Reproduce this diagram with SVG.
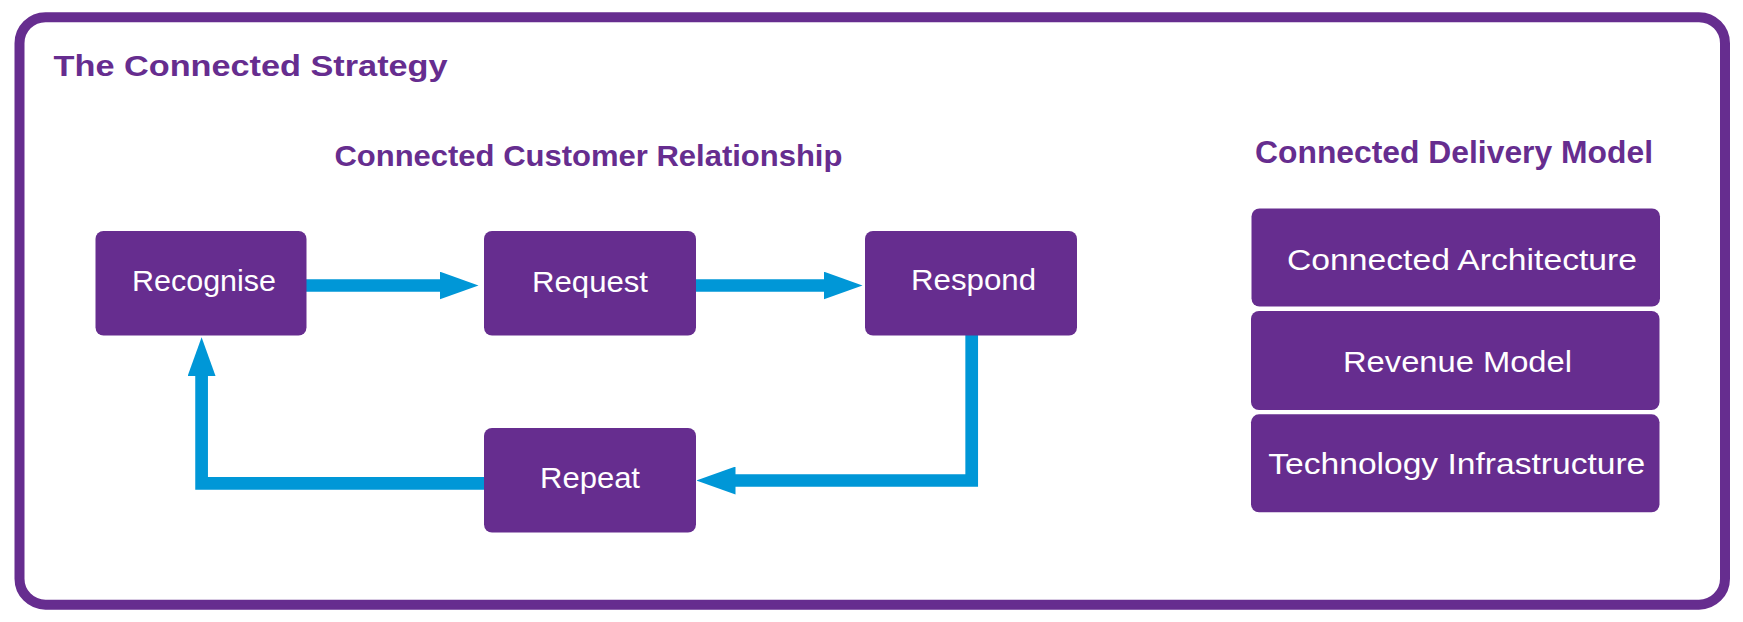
<svg xmlns="http://www.w3.org/2000/svg" width="1743" height="622" viewBox="0 0 1743 622">
  <style>
    .frame { fill: #ffffff; stroke: #662D8F; stroke-width: 10; }
    .heading { font-family: "Liberation Sans", Arial, sans-serif; font-weight: bold; fill: #662D8F; }
    .box { fill: #662D8F; }
    .label { font-family: "Liberation Sans", Arial, sans-serif; font-size: 30px; fill: #ffffff; text-anchor: middle; }
    .conn { fill: none; stroke: #0097D7; stroke-width: 12.7; stroke-linejoin: miter; }
  </style>
  <defs>
    <marker id="head" markerUnits="userSpaceOnUse" viewBox="0 0 39 28" markerWidth="39" markerHeight="28" refX="0.5" refY="14" orient="auto">
      <path d="M0,0 L39,14 L0,28 Z" fill="#0097D7"/>
    </marker>
  </defs>
  <rect width="1743" height="622" fill="#ffffff"/>
  <rect id="frame" class="frame" x="19.5" y="17.2" width="1705.5" height="587.5" rx="26" ry="26"/>

  <text id="title" class="heading" x="53.6" y="76" font-size="29" textLength="394" lengthAdjust="spacingAndGlyphs">The Connected Strategy</text>
  <text id="heading-ccr" class="heading" x="334.4" y="166" font-size="30" textLength="508" lengthAdjust="spacingAndGlyphs">Connected Customer Relationship</text>
  <text id="heading-cdm" class="heading" x="1255" y="163.3" font-size="31" textLength="398" lengthAdjust="spacingAndGlyphs">Connected Delivery Model</text>

  <g id="connectors">
    <path class="conn" d="M306,285.5 H440" marker-end="url(#head)"/>
    <path class="conn" d="M696,285.5 H824" marker-end="url(#head)"/>
    <path class="conn" d="M971.7,335 V480.5 H735" marker-end="url(#head)"/>
    <path class="conn" d="M484,483.3 H201.6 V375.7" marker-end="url(#head)"/>
  </g>

  <g id="recognise">
    <rect class="box" x="95.5" y="231" width="211" height="104.5" rx="8"/>
    <text class="label" x="204" y="291" textLength="144" lengthAdjust="spacingAndGlyphs">Recognise</text>
  </g>
  <g id="request">
    <rect class="box" x="484" y="231" width="212" height="104.5" rx="8"/>
    <text class="label" x="590" y="291.5" textLength="116" lengthAdjust="spacingAndGlyphs">Request</text>
  </g>
  <g id="respond">
    <rect class="box" x="865" y="231" width="212" height="104.5" rx="8"/>
    <text class="label" x="973.5" y="290" textLength="125" lengthAdjust="spacingAndGlyphs">Respond</text>
  </g>
  <g id="repeat">
    <rect class="box" x="484" y="428" width="212" height="104.5" rx="8"/>
    <text class="label" x="590" y="488" textLength="100" lengthAdjust="spacingAndGlyphs">Repeat</text>
  </g>

  <g id="connected-architecture">
    <rect class="box" x="1251.5" y="208.5" width="408.5" height="98" rx="8"/>
    <text class="label" x="1462" y="269.5" font-size="31" textLength="350" lengthAdjust="spacingAndGlyphs">Connected Architecture</text>
  </g>
  <g id="revenue-model">
    <rect class="box" x="1251" y="311" width="408.5" height="99" rx="8"/>
    <text class="label" x="1457.5" y="371.7" font-size="31" textLength="229" lengthAdjust="spacingAndGlyphs">Revenue Model</text>
  </g>
  <g id="technology-infrastructure">
    <rect class="box" x="1251" y="414.3" width="408.5" height="98" rx="8"/>
    <text class="label" x="1456.8" y="474" font-size="31" textLength="377" lengthAdjust="spacingAndGlyphs">Technology Infrastructure</text>
  </g>
</svg>
